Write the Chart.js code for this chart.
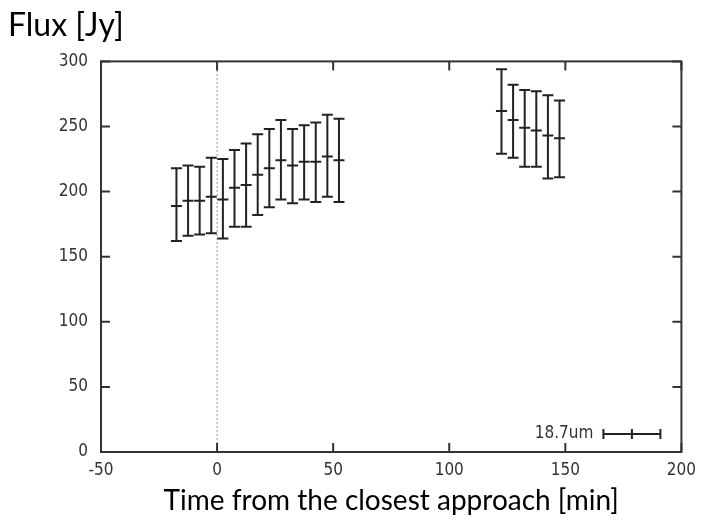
<!DOCTYPE html>
<html>
<head>
<meta charset="utf-8">
<script src="https://cdn.jsdelivr.net/npm/chart.js@4.4.1/dist/chart.umd.min.js"></script>
<style>
    html, body { margin: 0; padding: 0; background: #fff; }
</style>
</head>
<body>
<canvas id="chartFlux" width="704" height="526"></canvas>
<script>
// Temps depuis l'approche la plus proche [min]
const times = [-17.5, -12.5, -7.5, -2.5, 2.5, 7.5, 12.5, 17.5, 22.5, 27.5, 32.5, 37.5, 42.5, 47.5, 52.5,
               122.5, 127.5, 132.5, 137.5, 142.5, 147.5];
// Flux [Jy] et barres d'erreur
const flux     = [189, 193, 193, 196, 194, 203, 205, 213, 218, 224, 220, 223, 223, 227, 224,
                  262, 255, 249, 247, 243, 241];
const fluxLow  = [162, 166, 167, 168, 164, 173, 173, 182, 188, 194, 191, 194, 192, 196, 192,
                  229, 226, 219, 219, 210, 211];
const fluxHigh = [218, 220, 219, 226, 225, 232, 237, 244, 248, 255, 248, 251, 253, 259, 256,
                  294, 282, 278, 277, 274, 270];

const xTicks = [-50, 0, 50, 100, 150, 200];
const yTicks = [0, 50, 100, 150, 200, 250, 300];
const seriesLabel = '18.7um';

const tickFont = { family: "'DejaVu Sans Condensed', 'Liberation Sans', sans-serif", size: 17 };
const inkColor = '#222';

// Barres d'erreur verticales avec chapeaux
const errorBarsPlugin = {
    id: 'errorBars',
    afterDatasetsDraw(chart) {
        const xs = chart.scales.x, ys = chart.scales.y;
        const ctx = chart.ctx;
        ctx.save();
        ctx.strokeStyle = inkColor;
        ctx.lineWidth = 2;
        times.forEach((t, i) => {
            const px = xs.getPixelForValue(t);
            const pLo = ys.getPixelForValue(fluxLow[i]);
            const pHi = ys.getPixelForValue(fluxHigh[i]);
            ctx.beginPath();
            ctx.moveTo(px, pLo); ctx.lineTo(px, pHi);
            ctx.moveTo(px - 5.5, pLo); ctx.lineTo(px + 5.5, pLo);
            ctx.moveTo(px - 5.5, pHi); ctx.lineTo(px + 5.5, pHi);
            ctx.stroke();
        });
        ctx.restore();
    }
};

// Cadre et graduations vers l'intérieur (style gnuplot)
const framePlugin = {
    id: 'frame',
    afterDraw(chart) {
        const { left, right, top, bottom } = chart.chartArea;
        const xs = chart.scales.x, ys = chart.scales.y;
        const ctx = chart.ctx;
        const len = 9;
        ctx.save();
        ctx.strokeStyle = '#333';
        ctx.lineWidth = 2;
        ctx.strokeRect(left, top, right - left, bottom - top);
        ctx.beginPath();
        xTicks.forEach(v => {
            const px = xs.getPixelForValue(v);
            ctx.moveTo(px, bottom); ctx.lineTo(px, bottom - len);
            ctx.moveTo(px, top); ctx.lineTo(px, top + len);
        });
        yTicks.forEach(v => {
            const py = ys.getPixelForValue(v);
            ctx.moveTo(left, py); ctx.lineTo(left + len, py);
            ctx.moveTo(right, py); ctx.lineTo(right - len, py);
        });
        ctx.stroke();

        // Légende en bas à droite
        const ly = bottom - 18;
        const lx1 = right - 78, lx2 = right - 21;
        ctx.fillStyle = '#333';
        ctx.font = tickFont.size + 'px ' + tickFont.family;
        ctx.textAlign = 'right';
        ctx.textBaseline = 'middle';
        ctx.fillText(seriesLabel, lx1 - 10, ly);
        ctx.strokeStyle = inkColor;
        ctx.beginPath();
        ctx.moveTo(lx1, ly); ctx.lineTo(lx2, ly);
        ctx.moveTo(lx1, ly - 5); ctx.lineTo(lx1, ly + 5);
        ctx.moveTo(lx2, ly - 5); ctx.lineTo(lx2, ly + 5);
        const mid = (lx1 + lx2) / 2;
        ctx.moveTo(mid, ly - 5); ctx.lineTo(mid, ly + 5);
        ctx.stroke();
        ctx.restore();
    }
};

const canvas = document.getElementById('chartFlux');

const chart = new Chart(canvas, {
    type: 'scatter',
    data: {
        datasets: [{
            label: seriesLabel,
            data: times.map((t, i) => ({ x: t, y: flux[i] })),
            pointStyle: 'line',
            pointRadius: 5.5,
            pointBorderWidth: 2,
            borderColor: inkColor,
            backgroundColor: inkColor,
            order: 0
        }, {
            type: 'line',
            label: 'zero',
            data: [{ x: 0, y: 0 }, { x: 0, y: 300 }],
            borderColor: '#999',
            borderWidth: 1,
            borderDash: [2, 2],
            pointRadius: 0,
            order: 1
        }]
    },
    options: {
        responsive: false,
        animation: false,
        layout: { padding: { left: 8, right: 19, top: 0, bottom: 0 } },
        plugins: {
            legend: { display: false },
            tooltip: { enabled: false },
            title: {
                display: true,
                text: 'Flux [Jy]',
                align: 'start',
                color: '#000',
                font: { family: 'Lato', size: 32, weight: 'normal' },
                padding: { top: 6, bottom: 17 }
            }
        },
        scales: {
            x: {
                type: 'linear',
                min: -50,
                max: 200,
                grid: { display: false, drawTicks: false },
                border: { display: false },
                ticks: { stepSize: 50, color: '#333', font: tickFont, padding: 8 },
                title: {
                    display: true,
                    text: 'Time from the closest approach [min]',
                    color: '#000',
                    font: { family: 'Lato', size: 28 },
                    padding: { top: 0, bottom: 8 }
                },
                afterFit(scale) { scale.height = 74; }
            },
            y: {
                type: 'linear',
                min: 0,
                max: 300,
                grid: { display: false, drawTicks: false },
                border: { display: false },
                ticks: { stepSize: 50, color: '#333', font: tickFont, padding: 13 },
                afterFit(scale) { scale.width = 93; }
            }
        }
    },
    plugins: [errorBarsPlugin, framePlugin]
});
</script>
</body>
</html>
